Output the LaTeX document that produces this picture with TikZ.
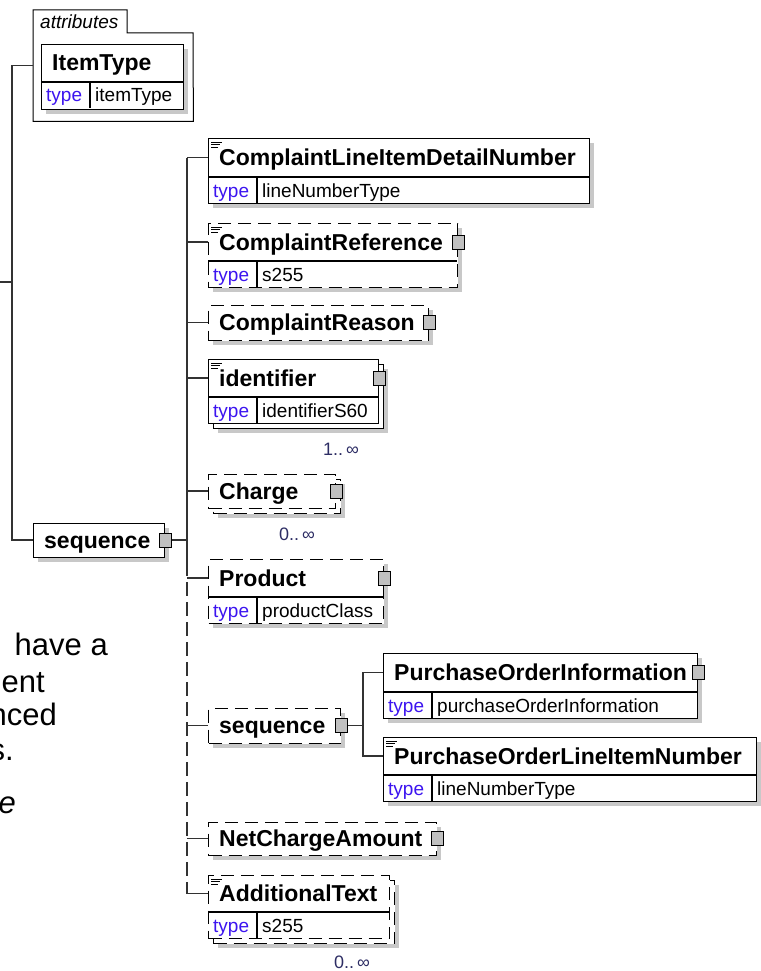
\documentclass[tikz,border=0pt]{standalone}
\usepackage{fontspec}
\setmainfont{Liberation Sans}
\usetikzlibrary{positioning}
\usetikzlibrary{calc}

\definecolor{typeblue}{RGB}{60,20,240}
\definecolor{multblue}{RGB}{45,45,100}
\definecolor{shadowgray}{RGB}{200,200,200}
\definecolor{plusgray}{RGB}{192,192,192}
\definecolor{linegray}{RGB}{50,50,50}

\tikzset{
  elbox/.style={draw=black, fill=white, line width=1.3pt, inner sep=0pt, anchor=north west},
  optbox/.style={dash pattern=on 13pt off 7pt},
  elname/.style={font=\fontsize{23}{23}\selectfont\bfseries, anchor=base west, inner sep=0pt},
  typelab/.style={font=\fontsize{19}{19}\selectfont, text=typeblue, anchor=base west, inner sep=0pt},
  typeval/.style={font=\fontsize{19}{19}\selectfont, anchor=base west, inner sep=0pt},
  plusbox/.style={draw=black, fill=plusgray, line width=1pt, minimum width=12pt, minimum height=14pt, inner sep=0pt},
  conn/.style={draw=linegray, line width=1.4pt},
  optconn/.style={conn, dash pattern=on 14pt off 6pt},
  multlab/.style={font=\fontsize{18}{18}\selectfont, text=multblue, anchor=base west, inner sep=0pt},
  docline/.style={line width=0.8pt},
  sidetext/.style={font=\fontsize{31}{31}\selectfont, anchor=base east, inner sep=0pt},
}

% shadow behind a box: x, y, width, height
\newcommand{\elshadow}[4]{\fill[shadowgray] (#1+5,#2+5) rectangle ++(#3,#4);}
% element box: id, x, y, width, height, header height, name, extra style
\newcommand{\elem}[8]{%
  \node[elbox, #8, minimum width=#4, minimum height=#5] (#1) at (#2,#3) {};
  \coordinate (#1-h) at (#2,#3+#6/2);
  \node[elname] (#1-n) at (#2+11,#3+#6/2+8) {#7};
}
% type row: id, x, y of divider, width, value
\newcommand{\eltype}[5]{%
  \draw[line width=1.3pt] (#2,#3) -- ++(#4,0);
  \draw[line width=1.3pt] (#2+49,#3) -- ++(0,26);
  \node[typelab] (#1-tl) at (#2+5,#3+20) {type};
  \node[typeval] (#1-tv) at (#2+54,#3+20) {#5};
}
% documentation mark
\newcommand{\eldoc}[1]{%
  \draw[docline] ($(#1.north west)+(3,4)$) -- ++(11,0);
  \draw[docline] ($(#1.north west)+(3,6.5)$) -- ++(9,0);
  \draw[docline] ($(#1.north west)+(3,9)$) -- ++(7,0);
}

\begin{document}
\begin{tikzpicture}[x=1pt, y=-1pt]
  \useasboundingbox (0,0) rectangle (760,971);

  % attributes
  \node[minimum width=160, minimum height=111, inner sep=0pt, anchor=north west] (attr) at (33,10) {};
  \draw[line width=1pt] (attr.south west) -- (attr.north west) -- (127,10) -- (127,33)
    -- (193,33) -- (attr.south east) -- cycle;
  \node[font=\fontsize{19}{19}\selectfont\itshape, anchor=base west, inner sep=0pt] (attrlab) at (40,29) {attributes};
  \elshadow{41}{44}{142}{65}
  \elem{itype}{41}{44}{142}{65}{38}{ItemType}{}
  \eltype{itype}{41}{82}{142}{itemType}

  % main sequence
  \elshadow{33}{523}{131}{34}
  \elem{mseq}{33}{523}{131}{34}{34}{sequence}{}
  \node[plusbox] (mseq-s) at (mseq.east |- mseq-h) {};

  % children
  \elshadow{208}{138}{381}{65}
  \elem{cldn}{208}{138}{381}{65}{39}{ComplaintLineItemDetailNumber}{}
  \eltype{cldn}{208}{177}{381}{lineNumberType}
  \eldoc{cldn}

  \elshadow{208}{223}{249}{64}
  \elem{cref}{208}{223}{249}{64}{38}{ComplaintReference}{optbox}
  \eltype{cref}{208}{261}{249}{s255}
  \eldoc{cref}
  \node[plusbox] (cref-s) at (cref.east |- cref-h) {};

  \elshadow{208}{305}{220}{35}
  \elem{creason}{208}{305}{220}{35}{35}{ComplaintReason}{optbox}
  \node[plusbox] (creason-s) at (creason.east |- creason-h) {};

  \elshadow{213}{364}{170}{64}
  \node[elbox, minimum width=170, minimum height=64] (ident-b) at (213,364) {};
  \elem{ident}{208}{359}{170}{64}{38}{identifier}{}
  \eltype{ident}{208}{397}{170}{identifierS60}
  \eldoc{ident}
  \node[plusbox] (ident-s) at (ident.east |- ident-h) {};
  \node[multlab] (ident-m) at (323,455) {1..\,∞};

  \elshadow{213}{479}{127}{34}
  \node[elbox, optbox, minimum width=127, minimum height=34] (charge-b) at (213,479) {};
  \elem{charge}{208}{474}{127}{34}{34}{Charge}{optbox}
  \node[plusbox] (charge-s) at (charge.east |- charge-h) {};
  \node[multlab] (charge-m) at (279,540) {0..\,∞};

  \elshadow{208}{559}{175}{64}
  \elem{product}{208}{559}{175}{64}{38}{Product}{optbox}
  \eltype{product}{208}{597}{175}{productClass}
  \node[plusbox] (product-s) at (product.east |- product-h) {};

  \elshadow{208}{708}{132}{35}
  \elem{seq2}{208}{708}{132}{35}{35}{sequence}{optbox}
  \node[plusbox] (seq2-s) at (seq2.east |- seq2-h) {};

  \elshadow{383}{653}{314}{65}
  \elem{poi}{383}{653}{314}{65}{39}{PurchaseOrderInformation}{}
  \eltype{poi}{383}{692}{314}{purchaseOrderInformation}
  \node[plusbox] (poi-s) at (poi.east |- poi-h) {};

  \elshadow{383}{737}{373}{64}
  \elem{poln}{383}{737}{373}{64}{38}{PurchaseOrderLineItemNumber}{}
  \eltype{poln}{383}{775}{373}{lineNumberType}
  \eldoc{poln}

  \elshadow{208}{822}{228}{33}
  \elem{nca}{208}{822}{228}{33}{33}{NetChargeAmount}{optbox}
  \node[plusbox] (nca-s) at (nca.east |- nca-h) {};

  \elshadow{213}{880}{181}{63}
  \node[elbox, optbox, minimum width=181, minimum height=63] (addt-b) at (213,880) {};
  \elem{addt}{208}{875}{181}{63}{37}{AdditionalText}{optbox}
  \eltype{addt}{208}{912}{181}{s255}
  \eldoc{addt}
  \node[multlab] (addt-m) at (334,968) {0..\,∞};

  % connectors
  \coordinate (parent) at (0,282);
  \coordinate (fork) at (12,282);
  \draw[conn] (parent) -- (fork);
  \draw[conn] (attr.west) -| (fork);
  \draw[conn] (mseq-h) -| (fork);

  \coordinate (tk) at ($(mseq-s.east)+(15,0)$);
  \coordinate (tkmid) at (tk |- 0,562);
  \draw[conn] (mseq-s) -- (tk);
  \draw[conn] (tk |- cldn-h) -- (tkmid);
  \draw[optconn] (tkmid) -- (tk |- addt-h);
  \foreach \e in {cldn,cref,creason,ident,charge,product,seq2,nca,addt}
    \draw[conn] (tk |- \e-h) -- (\e-h);

  \coordinate (tk2) at ($(seq2-s.east)+(15,0)$);
  \draw[conn] (seq2-s) -- (tk2);
  \draw[conn] (poi-h) -| (tk2) |- (poln-h);

  % text cut off at the left
  \node[sidetext] (txt1) at (108,655) {have a};
  \node[sidetext] (txt2) at (45,692) {ent};
  \node[sidetext] (txt3) at (57,725) {nced};
  \node[sidetext] (txt4) at (14,760) {s.};
  \node[sidetext, font=\fontsize{31}{31}\selectfont\itshape] (txt5) at (16,813) {e};
\end{tikzpicture}
\end{document}
